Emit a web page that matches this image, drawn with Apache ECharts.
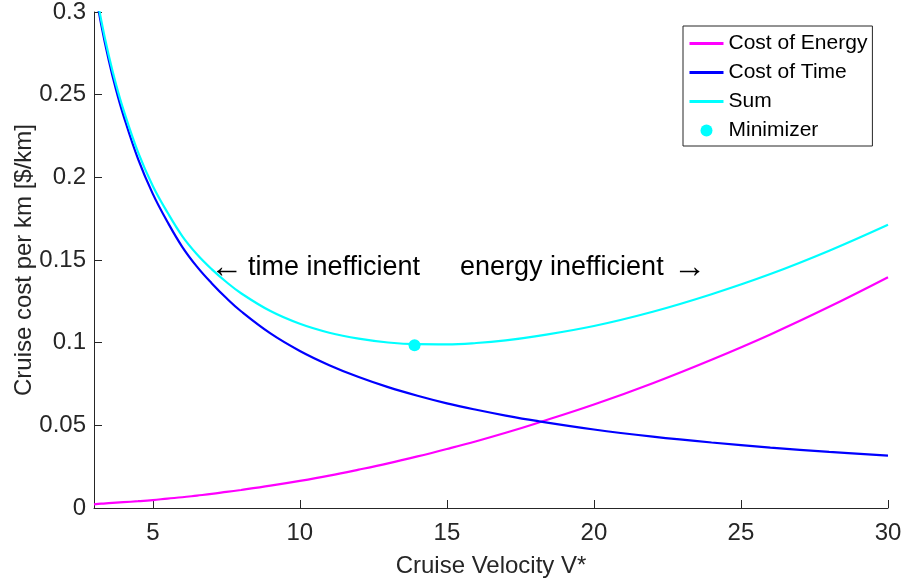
<!DOCTYPE html>
<html>
<head>
<meta charset="utf-8">
<script src="https://cdn.jsdelivr.net/npm/echarts@6/dist/echarts.min.js"></script>
<style>html,body{margin:0;padding:0;background:#fff;}#c{width:905px;height:580px;}</style>
</head>
<body>
<div id="c"></div>
<script>
var velocity = [3, 3.25, 3.5, 3.75, 4, 4.5, 5, 5.5, 6, 6.5, 7, 7.5, 8, 9, 10, 11, 12, 13, 14, 15, 16, 17, 18, 20, 22, 24, 26, 28, 30];
var costEnergy = [0.0022, 0.0026, 0.0029, 0.0032, 0.0035, 0.0041, 0.0048, 0.0057, 0.0065, 0.0075, 0.0085, 0.0097, 0.0109, 0.0135, 0.0164, 0.0196, 0.0232, 0.027, 0.0312, 0.0357, 0.0404, 0.0455, 0.051, 0.0626, 0.0755, 0.0897, 0.105, 0.1217, 0.1396];
var costTime = [0.317, 0.292, 0.271, 0.253, 0.2375, 0.211, 0.19, 0.173, 0.158, 0.146, 0.136, 0.127, 0.119, 0.1056, 0.095, 0.0864, 0.0792, 0.0731, 0.0679, 0.0633, 0.0594, 0.0559, 0.0528, 0.0475, 0.0432, 0.0396, 0.0365, 0.0339, 0.0317];
var minimizer = [13.9, 0.0985];
var xTicks = [5, 10, 15, 20, 25, 30];
var yTicks = [0, 0.05, 0.1, 0.15, 0.2, 0.25, 0.3];
var seriesNames = ['Cost of Energy', 'Cost of Time', 'Sum', 'Minimizer'];
var annotations = ['time inefficient', 'energy inefficient'];
var arrows = ['\u2190', '\u2192'];

var costSum = costEnergy.map(function (e, i) { return +(e + costTime[i]).toFixed(4); });
function pairs(ys) { return velocity.map(function (v, i) { return [v, ys[i]]; }); }

var FONT = 'Liberation Sans, Arial, Helvetica, sans-serif';
var TXT = '#262626';
var chart = echarts.init(document.getElementById('c'), null, {renderer: 'canvas'});
var lineSeries = function (name, data, color) {
  return {
    name: name, type: 'line', data: data, symbol: 'none', showSymbol: false, smooth: 0.4,
    lineStyle: {color: color, width: 2.2}, itemStyle: {color: color}, clip: true, z: 3
  };
};
var lineLegend = function (name) { return {name: name, itemStyle: {opacity: 0}, lineStyle: {width: 3}}; };
var annStyle = {fontSize: 27, fontFamily: FONT, fill: '#000', verticalAlign: 'middle'};
chart.setOption({
  animation: false,
  backgroundColor: '#fff',
  grid: {left: 94, right: 17, top: 12, bottom: 72, containLabel: false, outerBoundsMode: 'none'},
  xAxis: {
    type: 'value', min: 3, max: 30,
    name: 'Cruise Velocity V*', nameLocation: 'middle', nameGap: 46,
    nameTextStyle: {color: TXT, fontSize: 24, fontFamily: FONT},
    axisLine: {lineStyle: {color: TXT, width: 1}},
    axisTick: {inside: true, length: 8, lineStyle: {color: TXT}, customValues: xTicks},
    axisLabel: {color: TXT, fontSize: 24, fontFamily: FONT, margin: 13, customValues: xTicks},
    splitLine: {show: false}
  },
  yAxis: {
    type: 'value', min: 0, max: 0.3,
    name: 'Cruise cost per km [$/km]', nameLocation: 'middle', nameGap: 58, nameMoveOverlap: false,
    nameTextStyle: {color: TXT, fontSize: 24, fontFamily: FONT},
    axisLine: {show: true, lineStyle: {color: TXT, width: 1}},
    axisTick: {show: true, inside: true, length: 8, lineStyle: {color: TXT}, customValues: yTicks},
    axisLabel: {color: TXT, fontSize: 24, fontFamily: FONT, margin: 8, customValues: yTicks},
    splitLine: {show: false}
  },
  legend: {
    data: [
      lineLegend(seriesNames[0]), lineLegend(seriesNames[1]), lineLegend(seriesNames[2]),
      {name: seriesNames[3], icon: 'circle'}
    ],
    orient: 'vertical', left: 683, top: 26,
    itemWidth: 34, itemHeight: 12, itemGap: 8,
    padding: [7, 5, 5, 5],
    backgroundColor: '#fff', borderColor: TXT, borderWidth: 1, borderRadius: 0,
    textStyle: {color: '#000', fontSize: 21, fontFamily: FONT},
    z: 10
  },
  series: [
    lineSeries(seriesNames[0], pairs(costEnergy), '#ff00ff'),
    lineSeries(seriesNames[1], pairs(costTime), '#0000ff'),
    lineSeries(seriesNames[2], pairs(costSum), '#00ffff'),
    {
      name: seriesNames[3], type: 'scatter', data: [minimizer], symbol: 'circle', symbolSize: 12,
      itemStyle: {color: '#00ffff', opacity: 1}, z: 4
    }
  ],
  graphic: [
    {type: 'text', x: 210, y: 268, style: Object.assign({text: arrows[0]}, annStyle, {fontSize: 33})},
    {type: 'text', x: 248, y: 268, style: Object.assign({text: annotations[0]}, annStyle)},
    {type: 'text', x: 460, y: 268, style: Object.assign({text: annotations[1]}, annStyle)},
    {type: 'text', x: 673, y: 268, style: Object.assign({text: arrows[1]}, annStyle, {fontSize: 33})}
  ]
});
</script>
</body>
</html>
